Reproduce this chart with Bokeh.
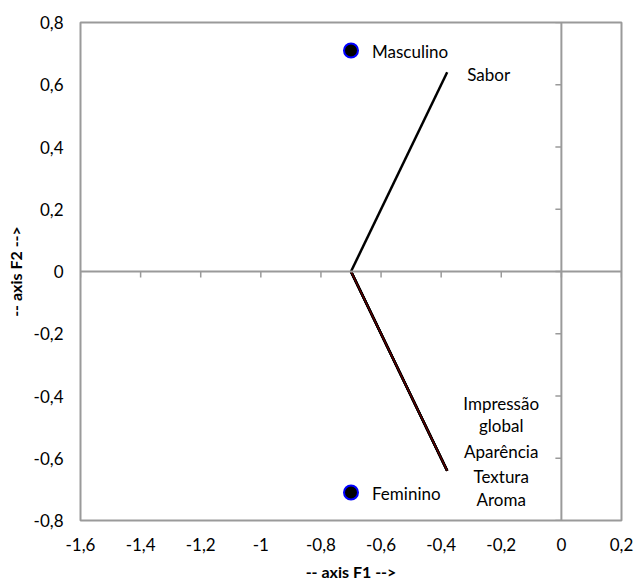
import math
from bokeh.plotting import figure
from bokeh.models import FixedTicker, Span
from bokeh.core.properties import value
from bokeh.embed import file_html
from bokeh.resources import INLINE

# ---- data ----
obs_names = ["Masculino", "Feminino"]
obs_x = [-0.70, -0.70]
obs_y = [0.71, -0.71]

vec_origin_x = -0.70
vec_origin_y = 0.0
var_names = ["Sabor", "Impressão global", "Aparência", "Textura", "Aroma"]
var_x = [-0.38, -0.38, -0.38, -0.38, -0.38]
var_y = [0.64, -0.64, -0.64, -0.64, -0.64]

x_ticks = [-1.6, -1.4, -1.2, -1.0, -0.8, -0.6, -0.4, -0.2, 0.0, 0.2]
x_tick_labels = ["-1,6", "-1,4", "-1,2", "-1", "-0,8", "-0,6", "-0,4", "-0,2", "0", "0,2"]
y_ticks = [-0.8, -0.6, -0.4, -0.2, 0.0, 0.2, 0.4, 0.6, 0.8]
y_tick_labels = ["-0,8", "-0,6", "-0,4", "-0,2", "0", "0,2", "0,4", "0,6", "0,8"]

FONT = "Lato"
GRAY = "#9a9a9a"

p = figure(width=634, height=583, output_backend="svg", toolbar_location=None,
           x_range=(x_ticks[0], x_ticks[-1]), y_range=(y_ticks[0], y_ticks[-1]),
           min_border_left=80, min_border_right=13, min_border_top=22, min_border_bottom=63)
p.grid.visible = False
p.outline_line_color = GRAY
p.outline_line_width = 2
p.background_fill_color = "white"

for ax, ticks, labels in ((p.xaxis[0], x_ticks, x_tick_labels), (p.yaxis[0], y_ticks, y_tick_labels)):
    ax.ticker = FixedTicker(ticks=ticks)
    ax.major_label_overrides = {t: l for t, l in zip(ticks, labels)}
    ax.axis_line_color = None
    ax.major_tick_line_color = None
    ax.minor_tick_line_color = None
    ax.major_tick_out = 0
    ax.major_tick_in = 0
    ax.major_label_text_font = FONT
    ax.major_label_text_font_size = "17px"
    ax.major_label_text_color = "black"
    ax.axis_label_text_font = FONT
    ax.axis_label_text_font_style = "bold"
    ax.axis_label_text_font_size = "16px"
    ax.axis_label_text_color = "black"

p.xaxis.axis_label = "-- axis F1 -->"
p.yaxis.axis_label = "-- axis F2 -->"
p.xaxis.major_label_standoff = 17
p.yaxis.major_label_standoff = 17
p.xaxis.axis_label_standoff = 8
p.yaxis.axis_label_standoff = 6

# zero axes
p.add_layout(Span(location=0, dimension="width", line_color=GRAY, line_width=2))
p.add_layout(Span(location=0, dimension="height", line_color=GRAY, line_width=2))
# tick marks on zero axes
p.ray(x=x_ticks, y=[0] * len(x_ticks), length=6, length_units="screen",
      angle=-math.pi / 2, line_color=GRAY, line_width=1.5)
p.ray(x=[0] * len(y_ticks), y=y_ticks, length=6, length_units="screen",
      angle=math.pi, line_color=GRAY, line_width=1.5)

# vectors
for i, name in enumerate(var_names):
    p.line([vec_origin_x, var_x[i]], [vec_origin_y, var_y[i]], line_color="black", line_width=2.5)
p.line([vec_origin_x, var_x[-1]], [vec_origin_y, var_y[-1]], line_color="#7a0000", line_width=1)

# observations
p.scatter(obs_x, obs_y, size=14, fill_color="black", line_color="#0000ff", line_width=2)
p.text(x=obs_x, y=obs_y, text=obs_names, x_offset=21, y_offset=1,
       text_align="left", text_baseline="middle", text_font=value(FONT),
       text_font_size="17px", text_color="black")

# variable labels (Excel-style de-overlapped)
p.text(x=[var_x[0]], y=[var_y[0]], text=[var_names[0]], x_offset=20, y_offset=2,
       text_align="left", text_baseline="middle", text_font=value(FONT),
       text_font_size="17px", text_color="black")
low_lines = ["Impressão", "global"] + var_names[2:]
low_offsets = [-67, -45, -19, 6, 29]
p.text(x=[var_x[1]] * len(low_lines), y=[var_y[1]] * len(low_lines), text=low_lines,
       x_offset=54, y_offset=low_offsets,
       text_align="center", text_baseline="middle", text_font=value(FONT),
       text_font_size="17px", text_color="black")

open("out.html", "w").write(file_html(p, INLINE))
